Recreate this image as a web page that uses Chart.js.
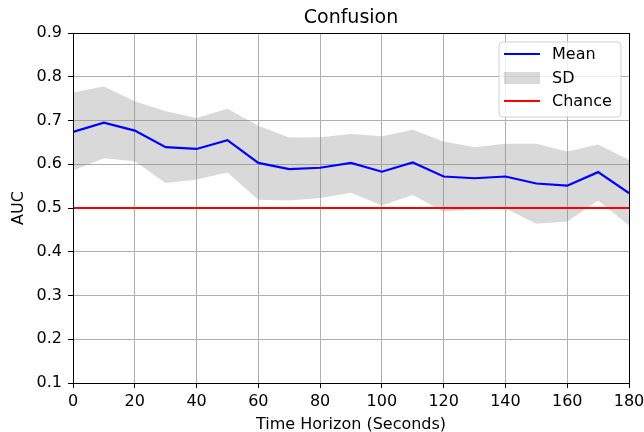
<!DOCTYPE html>
<html>
<head>
<meta charset="utf-8">
<script src="https://cdn.jsdelivr.net/npm/chart.js@4/dist/chart.umd.min.js"></script>
<style>
  html, body { margin: 0; padding: 0; background: #fff; }
  #wrap { width: 644px; height: 432px; }
</style>
</head>
<body>
<div id="wrap"><canvas id="aucChart" width="644" height="432"></canvas></div>
<script>
// Confusion AUC over time horizon
const horizons = [0, 10, 20, 30, 40, 50, 60, 70, 80, 90, 100, 110, 120, 130, 140, 150, 160, 170, 180];
const meanAuc  = [0.674, 0.695, 0.677, 0.639, 0.635, 0.655, 0.603, 0.589, 0.592, 0.603, 0.583, 0.604, 0.572, 0.568, 0.572, 0.556, 0.551, 0.582, 0.534];
const sdUpper  = [0.764, 0.778, 0.744, 0.721, 0.706, 0.727, 0.688, 0.661, 0.662, 0.669, 0.664, 0.679, 0.652, 0.639, 0.647, 0.647, 0.629, 0.645, 0.610];
const sdLower  = [0.586, 0.614, 0.607, 0.557, 0.565, 0.581, 0.519, 0.517, 0.523, 0.535, 0.506, 0.530, 0.492, 0.496, 0.499, 0.464, 0.469, 0.517, 0.460];
const chanceLevel = 0.5;
const xTicks = [0, 20, 40, 60, 80, 100, 120, 140, 160, 180];
const yTicks = [0.1, 0.2, 0.3, 0.4, 0.5, 0.6, 0.7, 0.8, 0.9];

const FONT = "'DejaVu Sans', sans-serif";

function toPoints(xs, ys) {
    return xs.map((x, i) => ({ x: x, y: ys[i] }));
}

// frame, title and in-plot legend, drawn the way matplotlib does
const framePlugin = {
    id: 'frame',
    afterDraw(chart) {
        const ctx = chart.ctx;
        const a = chart.chartArea;
        ctx.save();
        ctx.strokeStyle = '#000';
        ctx.lineWidth = 1;
        ctx.strokeRect(Math.round(a.left) + 0.5, Math.round(a.top) + 0.5,
            Math.round(a.right - a.left), Math.round(a.bottom - a.top));

        // title
        ctx.fillStyle = '#000';
        ctx.font = '19px ' + FONT;
        ctx.textAlign = 'center';
        ctx.textBaseline = 'middle';
        ctx.fillText('Confusion', (a.left + a.right) / 2, 18);

        // legend box
        const bx = 499, by = 42, bw = 122, bh = 75, r = 4;
        ctx.beginPath();
        ctx.moveTo(bx + r, by);
        ctx.arcTo(bx + bw, by, bx + bw, by + bh, r);
        ctx.arcTo(bx + bw, by + bh, bx, by + bh, r);
        ctx.arcTo(bx, by + bh, bx, by, r);
        ctx.arcTo(bx, by, bx + bw, by, r);
        ctx.closePath();
        ctx.fillStyle = 'rgba(255,255,255,0.8)';
        ctx.fill();
        ctx.strokeStyle = '#d0d0d0';
        ctx.stroke();

        const items = [
            { label: 'Mean', kind: 'line', color: '#0000ff', y: 54 },
            { label: 'SD', kind: 'patch', color: 'rgba(128,128,128,0.3)', y: 78 },
            { label: 'Chance', kind: 'line', color: '#ff0000', y: 101 }
        ];
        ctx.textAlign = 'left';
        ctx.font = '16px ' + FONT;
        items.forEach(it => {
            if (it.kind === 'line') {
                ctx.strokeStyle = it.color;
                ctx.lineWidth = 2.2;
                ctx.beginPath();
                ctx.moveTo(504, it.y);
                ctx.lineTo(540, it.y);
                ctx.stroke();
            } else {
                ctx.fillStyle = it.color;
                ctx.fillRect(504, it.y - 6, 36, 12);
            }
            ctx.fillStyle = '#000';
            ctx.fillText(it.label, 552, it.y + 1);
        });
        ctx.restore();
    }
};

new Chart(document.getElementById('aucChart'), {
    type: 'line',
    data: {
        datasets: [
            {
                label: 'Mean',
                data: toPoints(horizons, meanAuc),
                borderColor: '#0000ff',
                borderWidth: 2.2,
                pointRadius: 0,
                tension: 0,
                fill: false
            },
            {
                label: 'Chance',
                data: toPoints([horizons[0], horizons[horizons.length - 1]], [chanceLevel, chanceLevel]),
                borderColor: '#ff0000',
                borderWidth: 2.2,
                pointRadius: 0,
                fill: false
            },
            {
                label: 'SD upper',
                data: toPoints(horizons, sdUpper),
                borderWidth: 0,
                borderColor: 'rgba(0,0,0,0)',
                pointRadius: 0,
                tension: 0,
                fill: false
            },
            {
                label: 'SD',
                data: toPoints(horizons, sdLower),
                borderWidth: 0,
                borderColor: 'rgba(0,0,0,0)',
                backgroundColor: 'rgba(128,128,128,0.3)',
                pointRadius: 0,
                tension: 0,
                fill: '-1'
            }
        ]
    },
    options: {
        responsive: false,
        animation: false,
        layout: { padding: { top: 33, right: 15, left: 0, bottom: 0 } },
        plugins: {
            legend: { display: false },
            title: { display: false },
            tooltip: { enabled: false }
        },
        scales: {
            x: {
                type: 'linear',
                min: 0,
                max: 180,
                afterFit(scale) {
                    scale.height = 49;
                    scale.paddingLeft = 0;
                    scale.paddingRight = 0;
                },
                afterBuildTicks(scale) { scale.ticks = xTicks.map(v => ({ value: v })); },
                grid: { color: '#b0b0b0', lineWidth: 1, tickColor: '#000', tickLength: 5 },
                border: { display: false },
                ticks: {
                    color: '#000',
                    font: { family: FONT, size: 16 },
                    padding: 4,
                    maxRotation: 0
                },
                title: {
                    display: true,
                    text: 'Time Horizon (Seconds)',
                    color: '#000',
                    font: { family: FONT, size: 16 },
                    padding: { top: 0, bottom: -2 }
                }
            },
            y: {
                min: 0.1,
                max: 0.9,
                afterFit(scale) {
                    scale.width = 73;
                    scale.paddingTop = 0;
                    scale.paddingBottom = 0;
                },
                afterBuildTicks(scale) { scale.ticks = yTicks.map(v => ({ value: v })); },
                grid: { color: '#b0b0b0', lineWidth: 1, tickColor: '#000', tickLength: 5 },
                border: { display: false },
                ticks: {
                    color: '#000',
                    font: { family: FONT, size: 16 },
                    padding: 6,
                    callback: v => v.toFixed(1)
                },
                title: {
                    display: true,
                    text: 'AUC',
                    color: '#000',
                    font: { family: FONT, size: 16 },
                    padding: { top: 9, bottom: 0 }
                }
            }
        }
    },
    plugins: [framePlugin]
});
</script>
</body>
</html>
